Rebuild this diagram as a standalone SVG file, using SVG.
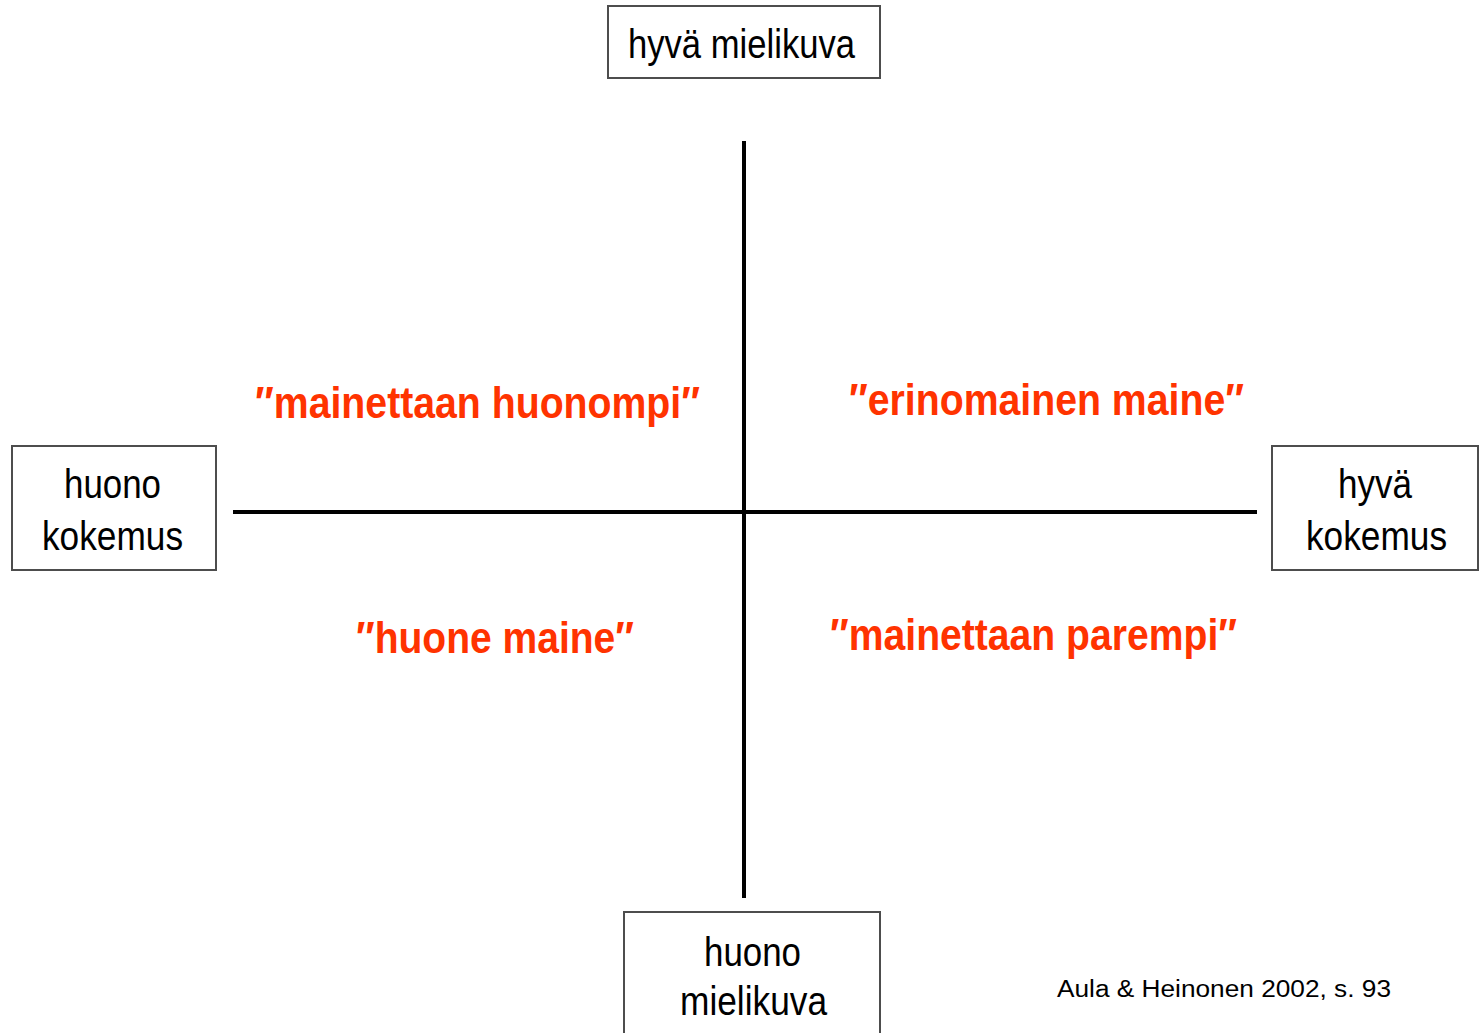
<svg xmlns="http://www.w3.org/2000/svg" width="1481" height="1033" viewBox="0 0 1481 1033">
  <style>
    .box { fill: #fff; stroke: #4d4d4d; stroke-width: 2; }
    .lbl { font-family: "Liberation Sans", Arial, sans-serif; font-size: 40px; fill: #000; }
    .q { font-family: "Liberation Sans", Arial, sans-serif; font-size: 44px; font-weight: bold; fill: #ff3300; }
    .axis { stroke: #000; stroke-width: 4; }
    .cite { font-family: "Liberation Sans", Arial, sans-serif; font-size: 23px; fill: #000; }
  </style>
  <rect width="1481" height="1033" fill="#fff"/>

  <g id="connectors">
    <line class="axis" x1="744" y1="141" x2="744" y2="898"/>
    <line class="axis" x1="233" y1="512" x2="1257" y2="512"/>
  </g>

  <g id="top-node">
    <rect class="box" x="608" y="6" width="272" height="72"/>
    <text class="lbl" x="628" y="58" textLength="227" lengthAdjust="spacingAndGlyphs">hyvä mielikuva</text>
  </g>

  <g id="left-node">
    <rect class="box" x="12" y="446" width="204" height="124"/>
    <text class="lbl" x="64" y="498" textLength="97" lengthAdjust="spacingAndGlyphs">huono</text>
    <text class="lbl" x="42" y="550" textLength="141" lengthAdjust="spacingAndGlyphs">kokemus</text>
  </g>

  <g id="right-node">
    <rect class="box" x="1272" y="446" width="206" height="124"/>
    <text class="lbl" x="1338" y="498" textLength="74" lengthAdjust="spacingAndGlyphs">hyvä</text>
    <text class="lbl" x="1306" y="550" textLength="141" lengthAdjust="spacingAndGlyphs">kokemus</text>
  </g>

  <g id="bottom-node">
    <rect class="box" x="624" y="912" width="256" height="130"/>
    <text class="lbl" x="704" y="966" textLength="97" lengthAdjust="spacingAndGlyphs">huono</text>
    <text class="lbl" x="680" y="1015" textLength="147" lengthAdjust="spacingAndGlyphs">mielikuva</text>
  </g>

  <g id="quadrant-labels">
    <text class="q" x="255" y="418" textLength="445" lengthAdjust="spacingAndGlyphs">″mainettaan huonompi″</text>
    <text class="q" x="849" y="415" textLength="395" lengthAdjust="spacingAndGlyphs">″erinomainen maine″</text>
    <text class="q" x="356" y="653" textLength="278" lengthAdjust="spacingAndGlyphs">″huone maine″</text>
    <text class="q" x="830" y="650" textLength="407" lengthAdjust="spacingAndGlyphs">″mainettaan parempi″</text>
  </g>

  <text class="cite" x="1057" y="997" textLength="334" lengthAdjust="spacingAndGlyphs">Aula &amp; Heinonen 2002, s. 93</text>
</svg>
